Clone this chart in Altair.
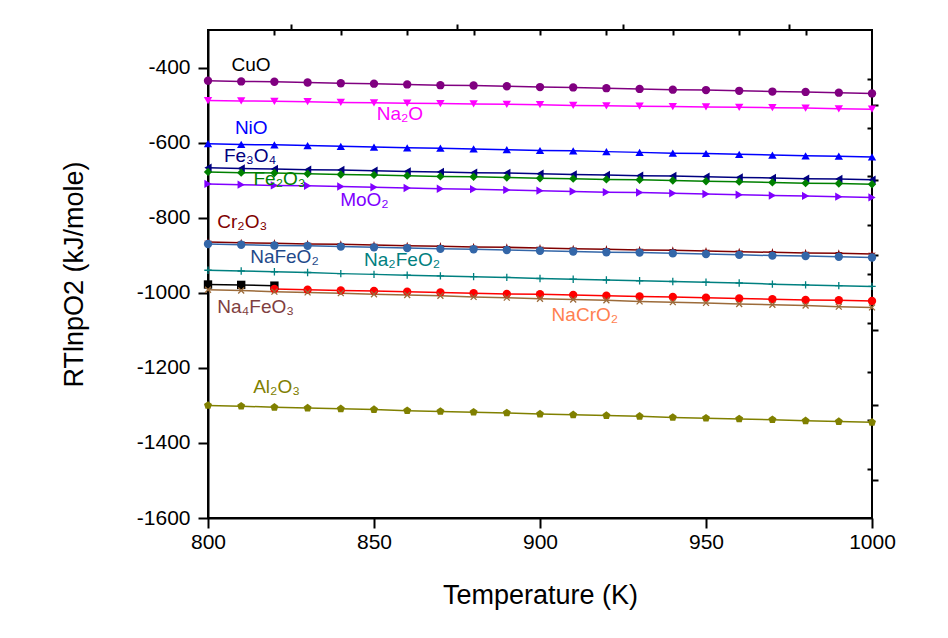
import altair as alt
import pandas as pd

FONT = "Liberation Sans"

temps = [800, 810, 820, 830, 840, 850, 860, 870, 880, 890, 900,
         910, 920, 930, 940, 950, 960, 970, 980, 990, 1000]
temps_black = [800, 810, 820]
temps_nacro2 = [820, 830, 840, 850, 860, 870, 880, 890, 900,
                910, 920, 930, 940, 950, 960, 970, 980, 990, 1000]

cuo = [-435, -437, -438, -440, -442, -443, -445, -447, -448, -450, -452,
       -453, -455, -457, -459, -460, -462, -464, -465, -467, -469]
na2o = [-488, -489, -490, -491, -493, -494, -495, -496, -497, -498, -499,
        -501, -502, -503, -504, -505, -506, -507, -508, -510, -511]
nio = [-603, -605, -606, -608, -610, -612, -614, -615, -617, -619, -621,
       -622, -624, -626, -628, -629, -631, -633, -635, -636, -638]
fe3o4 = [-667, -669, -670, -672, -673, -675, -677, -678, -680, -681, -683,
         -685, -686, -688, -689, -691, -693, -694, -696, -697, -699]
fe2o3 = [-678, -680, -681, -683, -685, -686, -688, -690, -691, -693, -695,
         -696, -698, -699, -701, -703, -704, -706, -708, -709, -711]
moo2 = [-710, -712, -714, -715, -717, -719, -721, -723, -724, -726, -728,
        -730, -732, -733, -735, -737, -739, -741, -742, -744, -746]
cr2o3 = [-865, -867, -868, -870, -871, -873, -875, -876, -878, -879, -881,
         -883, -884, -886, -887, -889, -891, -892, -894, -895, -897]
nafeo2 = [-870, -872, -874, -875, -877, -879, -881, -883, -884, -886, -888,
          -890, -892, -893, -895, -897, -899, -901, -902, -904, -906]
na2feo2 = [-940, -942, -944, -946, -949, -951, -953, -955, -957, -959, -962,
           -964, -966, -968, -970, -972, -974, -977, -979, -981, -983]
black_sq = [-978, -979, -981]
na4feo3 = [-992, -994, -997, -999, -1001, -1004, -1006, -1008, -1011, -1013, -1016,
           -1018, -1020, -1023, -1025, -1027, -1030, -1032, -1034, -1037, -1039]
nacro2 = [-990, -992, -994, -995, -997, -999, -1001, -1003, -1004,
          -1006, -1008, -1010, -1011, -1013, -1015, -1017, -1019, -1020, -1022]
al2o3 = [-1300, -1302, -1305, -1307, -1309, -1311, -1314, -1316, -1318, -1320, -1323,
         -1325, -1327, -1329, -1332, -1334, -1336, -1338, -1341, -1343, -1345]

series = [
    ("CuO", temps, cuo),
    ("Na2O", temps, na2o),
    ("NiO", temps, nio),
    ("Fe3O4", temps, fe3o4),
    ("Fe2O3", temps, fe2o3),
    ("MoO2", temps, moo2),
    ("Cr2O3", temps, cr2o3),
    ("NaFeO2", temps, nafeo2),
    ("Na2FeO2", temps, na2feo2),
    ("black", temps_black, black_sq),
    ("Na4FeO3", temps, na4feo3),
    ("NaCrO2", temps_nacro2, nacro2),
    ("Al2O3", temps, al2o3),
]

names = [s[0] for s in series]
colors = ["#800080", "#FF00FF", "#0000FF", "#000080", "#008000", "#8000FF",
          "#800000", "#3366A8", "#008080", "#000000", "#9C6B3A", "#FF0000", "#808000"]
STAR = "M0,-1L0.22,-0.31L0.95,-0.31L0.36,0.12L0.59,0.81L0,0.38L-0.59,0.81L-0.36,0.12L-0.95,-0.31L-0.22,-0.31Z"
PLUS = "M-1,0L1,0M0,-1L0,1"
XMARK = "M-0.8,-0.8L0.8,0.8M-0.8,0.8L0.8,-0.8"
PENT = "M0,-1L0.95,-0.31L0.59,0.81L-0.59,0.81L-0.95,-0.31Z"
shapes = ["circle", "triangle-down", "triangle-up", "triangle-left", "diamond",
          "triangle-right", STAR, "circle", PLUS, "square", XMARK, "circle", PENT]

# labels (annotation text)
label_text = ["CuO", "Na₂O", "NiO", "Fe₃O₄", "Fe₂O₃", "MoO₂", "Cr₂O₃",
              "NaFeO₂", "Na₂FeO₂", "Na₄FeO₃", "NaCrO₂", "Al₂O₃"]
label_T = [807.1, 850.8, 808.1, 804.8, 813.7, 839.8, 802.8, 812.7, 847.0, 802.8, 903.5, 813.6]
label_v = [-393, -524, -560, -636, -696, -754, -811, -906, -914, -1039, -1058, -1251]
label_color = ["#000000", "#FF00FF", "#0000FF", "#000080", "#008000", "#8000FF",
               "#800000", "#1F4A8A", "#008080", "#7F4040", "#FF7F50", "#808000"]

rows = []
for name, ts, vs in series:
    for t, v in zip(ts, vs):
        rows.append({"T": t, "v": v, "s": name})
df = pd.DataFrame(rows)
labels = pd.DataFrame({"T": label_T, "v": label_v, "label": label_text, "c": label_color})

xscale = alt.Scale(domain=[800, 1000], nice=False, zero=False)
yscale = alt.Scale(domain=[-1600, -300], nice=False, zero=False)
cscale = alt.Scale(domain=names, range=colors)
sscale = alt.Scale(domain=names, range=shapes)

base = alt.Chart(df)

x_main = alt.X("T:Q", scale=xscale, axis=alt.Axis(
    values=[800, 850, 900, 950, 1000], title="Temperature (K)", tickSize=10, tickWidth=2,
    domainWidth=2, labelFontSize=21, titleFontSize=27, labelPadding=3,
    labelExpr="'' + datum.value",
    titleX=332, titleY=64, titleBaseline="top", grid=False, labelFlush=False))
y_main = alt.Y("v:Q", scale=yscale, axis=alt.Axis(
    values=[-400, -600, -800, -1000, -1200, -1400, -1600], title="RTlnpO2 (kJ/mole)",
    tickSize=10, tickWidth=2, domainWidth=2, labelFontSize=21, titleFontSize=27,
    labelExpr="datum.value < 0 ? '-' + abs(datum.value) : '' + datum.value",
    labelPadding=8, titleX=-120, titleY=244, grid=False, labelFlush=False))

lines = base.mark_line(strokeWidth=1.5).encode(
    x=x_main, y=y_main,
    color=alt.Color("s:N", scale=cscale, legend=None),
    detail="s:N",
)

x_none = alt.X("T:Q", scale=xscale, axis=None)
y_none = alt.Y("v:Q", scale=yscale, axis=None)

pts_filled = base.transform_filter(
    "datum.s !== 'Na2FeO2' && datum.s !== 'Na4FeO3'"
).mark_point(filled=True, size=70, opacity=1).encode(
    x=x_none, y=y_none,
    color=alt.Color("s:N", scale=cscale, legend=None),
    shape=alt.Shape("s:N", scale=sscale, legend=None),
)

pts_stroked = base.transform_filter(
    "datum.s === 'Na2FeO2' || datum.s === 'Na4FeO3'"
).mark_point(filled=False, size=55, strokeWidth=1.3, opacity=1).encode(
    x=x_none, y=y_none,
    color=alt.Color("s:N", scale=cscale, legend=None),
    shape=alt.Shape("s:N", scale=sscale, legend=None),
)

text = alt.Chart(labels).mark_text(align="left", baseline="middle", fontSize=19, font=FONT).encode(
    x=x_none, y=y_none, text="label:N", color=alt.Color("c:N", scale=None),
)

minor = base.mark_line(opacity=0).encode(
    x=alt.X("T:Q", scale=xscale, axis=alt.Axis(
        values=[825, 875, 925, 975], labels=False, title="", domain=False,
        tickSize=6, tickWidth=2, grid=False)),
    y=alt.Y("v:Q", scale=yscale, axis=alt.Axis(
        values=[-500, -700, -900, -1100, -1300, -1500], labels=False, title="",
        domain=False, tickSize=6, tickWidth=2, grid=False)),
    detail="s:N",
)

inward = base.mark_line(opacity=0).encode(
    x=alt.X("T:Q", scale=xscale, axis=alt.Axis(
        orient="top", values=[820, 840, 860, 880, 900, 920, 940, 960, 980],
        labels=False, title="", domain=False, tickSize=5, tickWidth=2, offset=-5, grid=False)),
    y=alt.Y("v:Q", scale=yscale, axis=alt.Axis(
        orient="right", values=[-430, -560, -690, -820, -950, -1080, -1210, -1340, -1470],
        labels=False, title="", domain=False, tickSize=5, tickWidth=2, offset=-5, grid=False)),
    detail="s:N",
)

chart = alt.layer(lines, pts_filled, pts_stroked, text, minor, inward).resolve_axis(
    x="independent", y="independent"
).resolve_scale(color="independent", shape="independent").properties(
    width=664, height=488,
    autosize=alt.AutoSizeParams(type="none"),
    padding={"left": 200, "top": 22, "right": 68, "bottom": 112},
).configure_view(stroke="black", strokeWidth=2).configure_axis(
    labelFont=FONT, titleFont=FONT, titleFontWeight="normal", labelColor="black",
    titleColor="black", domainColor="black", tickColor="black",
)

chart.save("out.html", embed_options={"renderer": "svg", "actions": False})
